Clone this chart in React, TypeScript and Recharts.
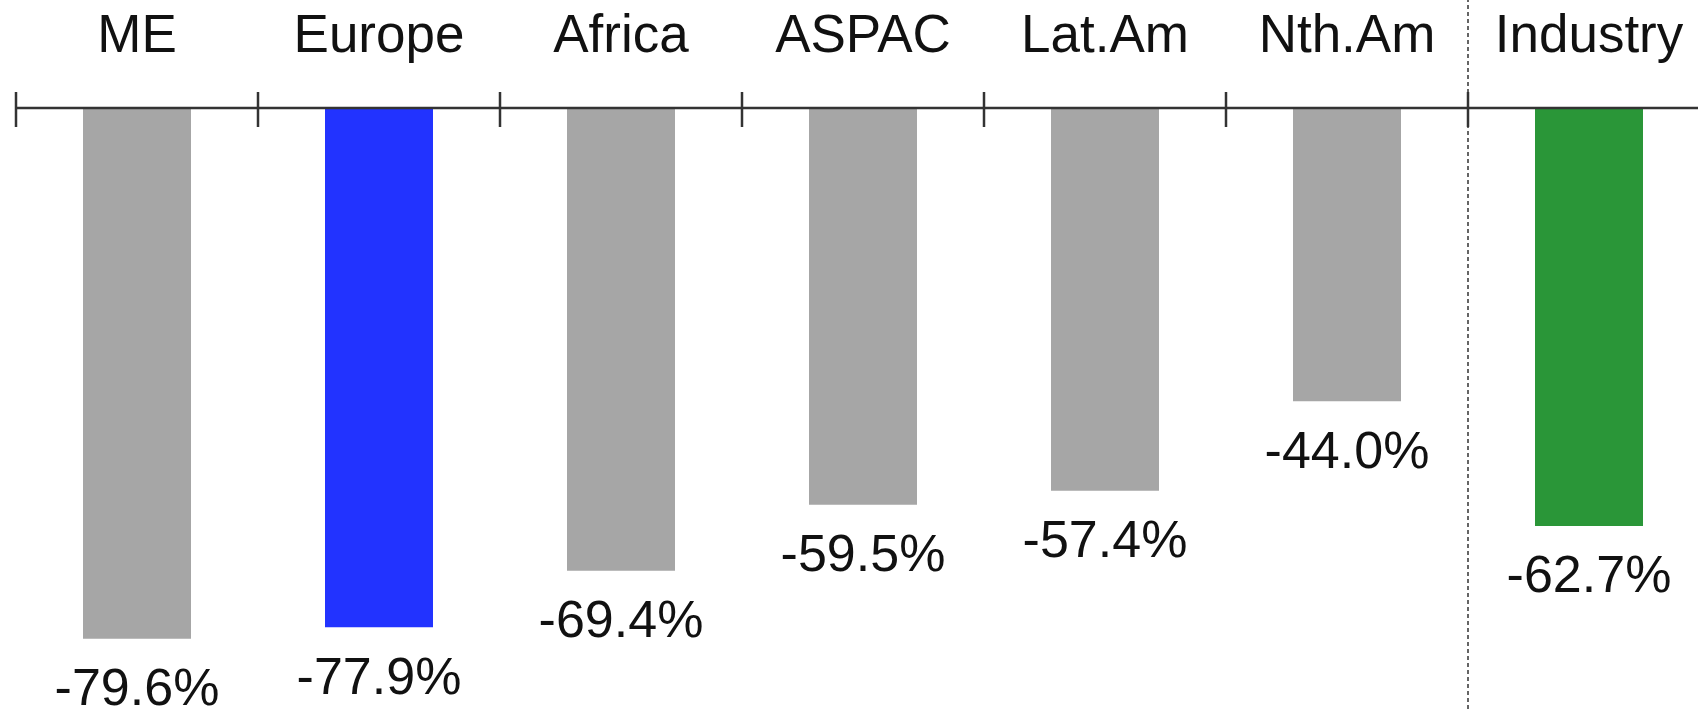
import React from 'react';
import { BarChart, Bar, XAxis, YAxis, Cell } from 'recharts';

const categories = ['ME', 'Europe', 'Africa', 'ASPAC', 'Lat.Am', 'Nth.Am', 'Industry'];
const changes = [-79.6, -77.9, -69.4, -59.5, -57.4, -44.0, -62.7];
const barColors = ['#a6a6a6', '#2233ff', '#a6a6a6', '#a6a6a6', '#a6a6a6', '#a6a6a6', '#2a9638'];
const yDomain: [number, number] = [-90, 0];
const separatorBefore = 'Industry';

const data = categories.map((c, i) => ({ name: c, value: changes[i] }));

const FONT = '"Liberation Sans", Arial, Helvetica, sans-serif';

function CategoryTick(props: any) {
  const { x, y, payload, width, visibleTicksCount } = props;
  const half = payload && payload.offset ? payload.offset : width / (2 * (visibleTicksCount || 7));
  const bx = x - half;
  const isSep = payload && payload.value === separatorBefore;
  return (
    <g>
      {isSep && (
        <line x1={bx} x2={bx} y1={y - 110} y2={y + 610} stroke="#555" strokeWidth={1.8} strokeDasharray="4 3" />
      )}
      <line x1={bx} x2={bx} y1={y - 16} y2={y + 19} stroke="#333" strokeWidth={2.5} />
      <text x={x} y={y - 56} textAnchor="middle" fontSize={53} fontFamily={FONT} fill="#111">
        {payload.value}
      </text>
    </g>
  );
}

function ValueLabel(props: any) {
  const { x, y, width, height, value } = props;
  const bottom = Math.max(Number(y), Number(y) + Number(height));
  return (
    <text x={Number(x) + Number(width) / 2} y={bottom + 29} dy="0.72em" textAnchor="middle" fontSize={52} fontFamily={FONT} fill="#111">
      {`${Number(value).toFixed(1)}%`}
    </text>
  );
}

export default function App() {
  return (
    <div style={{ position: 'fixed', left: 0, top: 0, width: 1698, height: 710, overflow: 'hidden', background: '#fff' }}>
      <BarChart width={1710} height={710} data={data} margin={{ top: 0, right: 0, bottom: 2, left: 16 }}>
        <XAxis
          dataKey="name"
          orientation="top"
          height={108}
          tickSize={0}
          tickMargin={0}
          tickLine={false}
          axisLine={{ stroke: '#333', strokeWidth: 2.5 }}
          tick={<CategoryTick />}
          interval={0}
        />
        <YAxis hide domain={yDomain} type="number" />
        <Bar dataKey="value" barSize={108} isAnimationActive={false} label={<ValueLabel />}>
          {data.map((d, i) => (
            <Cell key={d.name} fill={barColors[i]} />
          ))}
        </Bar>
      </BarChart>
    </div>
  );
}
